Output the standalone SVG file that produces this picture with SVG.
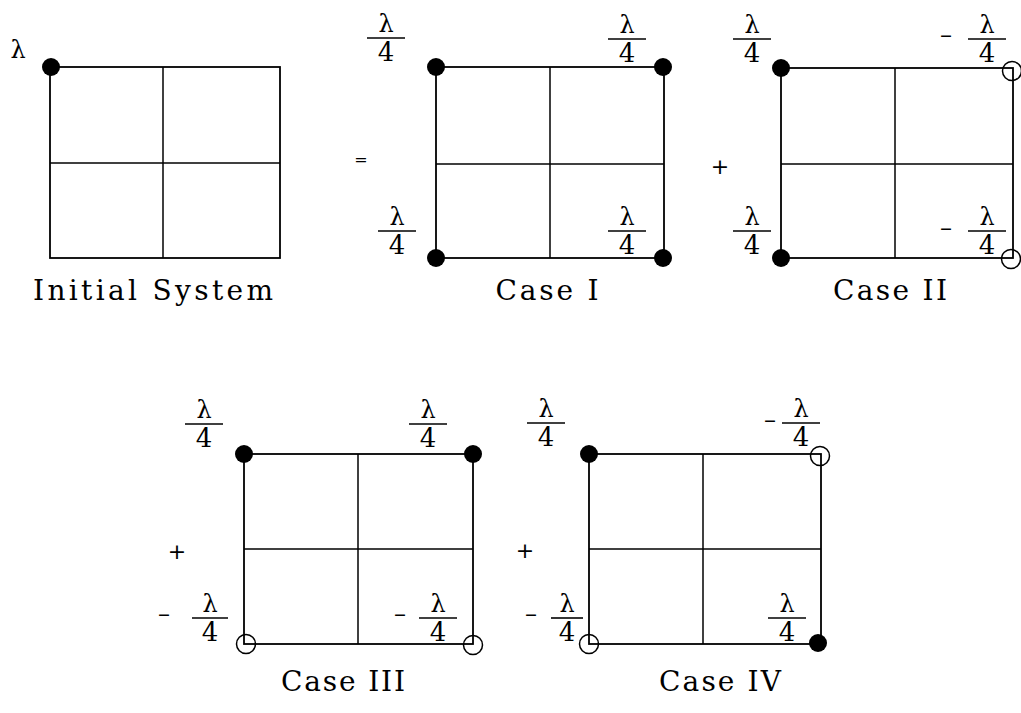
<svg xmlns="http://www.w3.org/2000/svg" width="1021" height="713" viewBox="0 0 1021 713">
<style>
  .edge { fill: none; stroke: #000; stroke-width: 1.8; }
  .in { stroke: #000; stroke-width: 1.5; }
  .dot { fill: #000; }
  .ring { fill: none; stroke: #000; stroke-width: 1.5; }
  .fl { stroke: #000; stroke-width: 1.6; }
  .lam { font-family: "DejaVu Serif", "Liberation Serif", serif; font-size: 24px; text-anchor: middle; fill: #000; }
  .four { font-family: "DejaVu Serif", "Liberation Serif", serif; font-size: 26px; text-anchor: middle; fill: #000; }
  .neg { font-family: "DejaVu Serif", "Liberation Serif", serif; font-size: 24px; text-anchor: middle; fill: #000; }
  .op { font-family: "DejaVu Sans", "Liberation Sans", sans-serif; font-size: 22px; text-anchor: middle; fill: #000; }
  .cap { font-family: "DejaVu Serif", "Liberation Serif", serif; font-size: 28px; text-anchor: middle; fill: #000; }
</style>
<rect width="1021" height="713" fill="#fff"/>

<g id="initial-system">
  <rect class="edge" x="50" y="67" width="230" height="191"/>
  <line class="in" x1="163" y1="67" x2="163" y2="258"/>
  <line class="in" x1="50" y1="163" x2="280" y2="163"/>
  <circle class="dot" cx="51" cy="67" r="9"/>
  <text x="18" y="58" class="lam">λ</text>
  <text x="153" y="300" class="cap" textLength="240" lengthAdjust="spacing">Initial System</text>
</g>

<g id="case-1">
  <rect class="edge" x="436" y="67" width="228" height="191"/>
  <line class="in" x1="550" y1="67" x2="550" y2="258"/>
  <line class="in" x1="436" y1="164" x2="664" y2="164"/>
  <circle class="dot" cx="436" cy="67" r="9"/>
  <circle class="dot" cx="663" cy="67" r="9"/>
  <circle class="dot" cx="436" cy="258" r="9"/>
  <circle class="dot" cx="663" cy="258" r="9"/>
  <text x="386" y="32" class="lam">λ</text><line class="fl" x1="367" y1="38" x2="405" y2="38"/><text x="386" y="61" class="four">4</text>
  <text x="627" y="33" class="lam">λ</text><line class="fl" x1="608" y1="39" x2="646" y2="39"/><text x="627" y="62" class="four">4</text>
  <text x="397" y="225" class="lam">λ</text><line class="fl" x1="378" y1="231" x2="416" y2="231"/><text x="397" y="254" class="four">4</text>
  <text x="627" y="225" class="lam">λ</text><line class="fl" x1="608" y1="231" x2="646" y2="231"/><text x="627" y="254" class="four">4</text>
  <text x="547" y="300" class="cap" textLength="103" lengthAdjust="spacing">Case I</text>
</g>

<g id="case-2">
  <rect class="edge" x="781" y="68" width="232" height="190"/>
  <line class="in" x1="895" y1="68" x2="895" y2="258"/>
  <line class="in" x1="781" y1="164" x2="1013" y2="164"/>
  <circle class="dot" cx="781" cy="68" r="9"/>
  <circle class="dot" cx="781" cy="258" r="9"/>
  <circle class="ring" cx="1012" cy="71" r="9.5"/>
  <circle class="ring" cx="1011" cy="259" r="9.5"/>
  <text x="752" y="33" class="lam">λ</text><line class="fl" x1="733" y1="39" x2="771" y2="39"/><text x="752" y="62" class="four">4</text>
  <text x="946" y="43" class="neg">–</text>
  <text x="987" y="33" class="lam">λ</text><line class="fl" x1="968" y1="39" x2="1006" y2="39"/><text x="987" y="62" class="four">4</text>
  <text x="752" y="225" class="lam">λ</text><line class="fl" x1="733" y1="231" x2="771" y2="231"/><text x="752" y="254" class="four">4</text>
  <text x="946" y="236" class="neg">–</text>
  <text x="987" y="225" class="lam">λ</text><line class="fl" x1="968" y1="231" x2="1006" y2="231"/><text x="987" y="254" class="four">4</text>
  <text x="890" y="300" class="cap" textLength="114" lengthAdjust="spacing">Case II</text>
</g>

<g id="case-3">
  <rect class="edge" x="244" y="454" width="229" height="190"/>
  <line class="in" x1="358" y1="454" x2="358" y2="644"/>
  <line class="in" x1="244" y1="549" x2="473" y2="549"/>
  <circle class="dot" cx="244" cy="454" r="9"/>
  <circle class="dot" cx="473" cy="454" r="9"/>
  <circle class="ring" cx="246" cy="644" r="9.5"/>
  <circle class="ring" cx="473" cy="645" r="9.5"/>
  <text x="204" y="418" class="lam">λ</text><line class="fl" x1="185" y1="424" x2="223" y2="424"/><text x="204" y="447" class="four">4</text>
  <text x="428" y="418" class="lam">λ</text><line class="fl" x1="409" y1="424" x2="447" y2="424"/><text x="428" y="447" class="four">4</text>
  <text x="164" y="622" class="neg">–</text>
  <text x="210" y="612" class="lam">λ</text><line class="fl" x1="192" y1="618" x2="228" y2="618"/><text x="210" y="641" class="four">4</text>
  <text x="400" y="622" class="neg">–</text>
  <text x="438" y="612" class="lam">λ</text><line class="fl" x1="419" y1="618" x2="457" y2="618"/><text x="438" y="641" class="four">4</text>
  <text x="343" y="691" class="cap" textLength="124" lengthAdjust="spacing">Case III</text>
</g>

<g id="case-4">
  <rect class="edge" x="589" y="454" width="232" height="190"/>
  <line class="in" x1="703" y1="454" x2="703" y2="644"/>
  <line class="in" x1="589" y1="549" x2="821" y2="549"/>
  <circle class="dot" cx="589" cy="454" r="9"/>
  <circle class="dot" cx="818" cy="643" r="9"/>
  <circle class="ring" cx="820" cy="456" r="9.5"/>
  <circle class="ring" cx="589" cy="644" r="9.5"/>
  <text x="546" y="417" class="lam">λ</text><line class="fl" x1="527" y1="423" x2="565" y2="423"/><text x="546" y="446" class="four">4</text>
  <text x="770" y="428" class="neg">–</text>
  <text x="801" y="417" class="lam">λ</text><line class="fl" x1="782" y1="423" x2="820" y2="423"/><text x="801" y="446" class="four">4</text>
  <text x="531" y="622" class="neg">–</text>
  <text x="567" y="612" class="lam">λ</text><line class="fl" x1="551" y1="618" x2="583" y2="618"/><text x="567" y="641" class="four">4</text>
  <text x="787" y="612" class="lam">λ</text><line class="fl" x1="768" y1="618" x2="806" y2="618"/><text x="787" y="641" class="four">4</text>
  <text x="720" y="691" class="cap" textLength="122" lengthAdjust="spacing">Case IV</text>
</g>

<g id="connectors">
  <text x="361" y="165" class="op" style="font-size:16px">=</text>
  <text x="720" y="174" class="op">+</text>
  <text x="177" y="559" class="op">+</text>
  <text x="525" y="558" class="op">+</text>
</g>
</svg>
